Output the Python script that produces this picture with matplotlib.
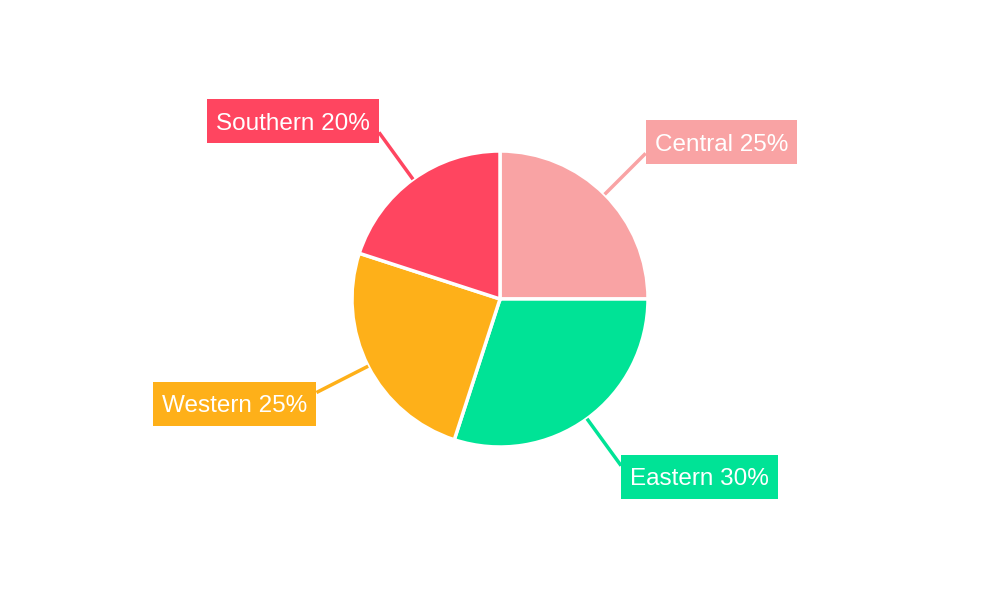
import numpy as np
import matplotlib
matplotlib.use("Agg")
import matplotlib.pyplot as plt
from matplotlib.patches import Rectangle

categories = ["Central", "Eastern", "Western", "Southern"]
values = [25, 30, 25, 20]
colors = ["#F9A3A4", "#00E396", "#FEB019", "#FF4560"]

plt.rcParams['font.family'] = ['Liberation Sans', 'DejaVu Sans']

fig = plt.figure(figsize=(10, 6), dpi=100)
ax = fig.add_axes([0, 0, 1, 1])

cx, cy, R = 500, 301, 148
wedges, _ = ax.pie(values, colors=colors, startangle=90, counterclock=False,
                   center=(cx, cy), radius=R,
                   wedgeprops=dict(edgecolor='white', linewidth=2.5))
ax.set_xlim(0, 1000)
ax.set_ylim(0, 600)
ax.set_aspect('equal')
ax.axis('off')

total = sum(values)
line_len = 58
fs = 17.5
pad_x = 9
box_h = 44
cap_h = 0.716 * fs * 100 / 72
fig.canvas.draw()
renderer = fig.canvas.get_renderer()
for w, cat, v, col in zip(wedges, categories, values, colors):
    mid = np.deg2rad((w.theta1 + w.theta2) / 2)
    c, s = np.cos(mid), np.sin(mid)
    x0, y0 = cx + R * c, cy + R * s
    x1, y1 = cx + (R + line_len) * c, cy + (R + line_len) * s
    ax.plot([x0, x1], [y0, y1], color=col, lw=2.5, solid_capstyle='butt', zorder=3)
    ha = 'left' if c > 0 else 'right'
    tx = x1 + pad_x if c > 0 else x1 - pad_x
    yc = y1 + (11 if s > 0 else -11)
    pct = round(v / total * 100)
    t = ax.text(tx, yc - cap_h / 2, f"{cat} {pct}%", ha=ha, va='baseline',
                color='white', fontsize=fs, zorder=5)
    bb = t.get_window_extent(renderer)
    tw = bb.width
    bx = x1 if c > 0 else x1 - tw - 2 * pad_x
    ax.add_patch(Rectangle((bx, yc - box_h / 2), tw + 2 * pad_x, box_h,
                           fc=col, ec='none', zorder=4))

fig.savefig("out.png", dpi=100)
